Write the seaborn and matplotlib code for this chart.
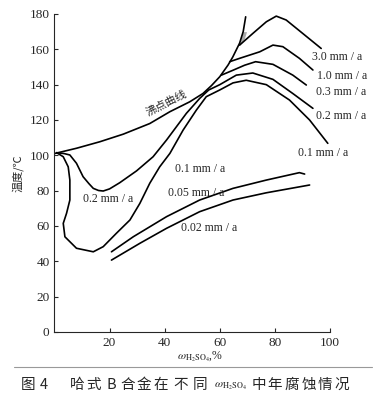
import numpy as np
import pandas as pd
import seaborn as sns
import matplotlib.pyplot as plt
from matplotlib.lines import Line2D

# curves (x = w_H2SO4 %, y = temperature C)
boil_x = [0, 8, 16.5, 25, 34.6, 41.9, 49.1, 53.9, 57, 60, 63, 64.7, 67.2, 68.5, 69.4]
boil_y = [101, 104, 107.7, 112, 118, 124.7, 130.3, 135, 139.5, 144.5, 151.1, 155.6, 163.5, 170, 178.4]

c01_x = [0.8, 3.2, 5.0, 5.6, 5.6, 4.4, 3.2, 3.8, 8.0, 14.1, 17.7, 22.5, 27.4, 31.0, 34.6, 38.2,
         41.9, 46.7, 51.5, 55.1, 60, 64.8, 69.6, 76.9, 85.3, 92.6, 99.2]
c01_y = [101.5, 99.2, 93.5, 86, 74.7, 67.2, 61.5, 53.9, 47.4, 45.4, 48.3, 55.9, 63.4, 72.8, 84.2, 93.5,
         101.1, 114.3, 125.6, 133.2, 137, 141, 142.5, 140, 131.3, 120, 106.8]

c02_x = [0.8, 3.5, 5.6, 8, 10.4, 12.5, 14.1, 16, 17.7, 20, 23.7, 29.8, 35.8, 40.7, 47.9, 52.7,
         56, 60, 66, 72, 79.3, 86.5, 93.8]
c02_y = [101.5, 101, 100.2, 95.5, 87.9, 84, 81.3, 80.1, 79.8, 81, 84.5, 91.2, 99.2, 108.7, 123.8, 132.2,
         137, 140, 145.4, 146.6, 143, 135, 126.6]

c03_x = [60.6, 65, 69, 73, 79.3, 86.5, 91.4]
c03_y = [145.4, 148.3, 151, 153, 151.5, 145.4, 139.8]

c10_x = [63.6, 67.2, 74.5, 79.3, 82.9, 88.9, 93.8]
c10_y = [153, 154.9, 158.6, 162.4, 161.5, 154.9, 148.3]

c30_x = [67.2, 72, 76.9, 80.5, 84.1, 90.1, 96.8]
c30_y = [162.4, 169, 175.6, 178.8, 176.6, 169, 160.5]

c005_x = [20.7, 28.6, 40.7, 52.7, 64.8, 76.9, 88.9, 90.8]
c005_y = [45.4, 53.9, 65.3, 74.7, 81.3, 86, 90.2, 89.4]

c002_x = [20.7, 31, 40.7, 52.7, 64.8, 76.9, 92.6]
c002_y = [40.7, 50.2, 58.7, 68.1, 74.7, 78.8, 83.2]

curves = {
    "boil": (boil_x, boil_y), "0.1": (c01_x, c01_y), "0.2": (c02_x, c02_y),
    "0.3": (c03_x, c03_y), "1.0": (c10_x, c10_y), "3.0": (c30_x, c30_y),
    "0.05": (c005_x, c005_y), "0.02": (c002_x, c002_y),
}
frames = [pd.DataFrame({"x": xs, "y": ys, "curve": k}) for k, (xs, ys) in curves.items()]
df = pd.concat(frames, ignore_index=True)

labels = ["3.0 mm / a", "1.0 mm / a", "0.3 mm / a", "0.2 mm / a", "0.1 mm / a",
          "0.1 mm / a", "0.2 mm / a", "0.05 mm / a", "0.02 mm / a"]
label_x = [102.7, 104.5, 104, 104, 97.4, 52.7, 19.5, 51.5, 56.3]
label_y = [155.6, 144.9, 136, 122.2, 101.1, 92, 75.1, 78.5, 58.7]

# caption pieces, x centres (pixels) and sizes
cap_text = ["图", "4", "哈", "式", "B", "合", "金", "在", "不", "同",
            r"$\omega_{\mathrm{H_2SO_4}}$", "中", "年", "腐", "蚀", "情", "况"]
cap_px = [28, 44, 77, 94, 111, 128, 144, 161, 181, 200, 230, 259, 275, 292, 309, 325, 342]
cap_fs = [10.5] * 10 + [8.5] + [10.5] * 6

sns.set_style("ticks")
plt.rcParams['font.family'] = ['Liberation Serif', 'Noto Sans CJK SC', 'DejaVu Sans']
plt.rcParams['mathtext.fontset'] = 'stix'

fig = plt.figure(figsize=(3.78, 4.0), dpi=100)
ax = fig.add_axes([0.144, 0.17, 0.729, 0.795])

sns.lineplot(data=df, x="x", y="y", units="curve", estimator=None, sort=False,
             color="black", linewidth=1.2, ax=ax)

# small gray wedge between boiling curve and 3.0 curve
yy = [162.4, 166, 170]
bx = np.interp(yy, boil_y, boil_x)
cx = np.interp(yy, c30_y[:4], c30_x[:4])
ax.fill_betweenx(yy, bx, np.minimum(cx, bx + 1.2), color="#aaaaaa", lw=0)

for t, x, y in zip(labels, label_x, label_y):
    ax.text(x, y, t, fontsize=8.5, ha="center", va="center")
ax.text(40.5, 129.5, "沸点曲线", fontsize=8, rotation=27, ha="center", va="center",
        family=['Noto Sans CJK SC'])

ax.set_xlim(0, 100)
ax.set_ylim(0, 180)
ax.set_xticks([20, 40, 60, 80, 100])
ax.set_yticks(range(0, 181, 20))
ax.tick_params(direction="in", length=3, labelsize=9.5, width=0.8)
sns.despine(ax=ax)
ax.set_xlabel("")
ax.set_ylabel("")
fig.text(200 / 378, 1 - 357 / 400, r"$\omega_{\mathrm{H_2SO_4}}$,%", fontsize=8.5, ha="center", va="center")
fig.text(18 / 378, 1 - 173 / 400, "温度/℃", rotation=90, fontsize=8, ha="center", va="center",
         family=['Noto Sans CJK SC', 'DejaVu Sans'])

fig.add_artist(Line2D([14 / 378, 372 / 378], [1 - 367 / 400] * 2, color="#999999", lw=0.8))
for t, px, fs in zip(cap_text, cap_px, cap_fs):
    fig.text(px / 378, 1 - 385 / 400, t, fontsize=fs, ha="center", va="center",
             family=['Noto Sans CJK SC', 'DejaVu Sans'])

fig.savefig("out.png", dpi=100)
